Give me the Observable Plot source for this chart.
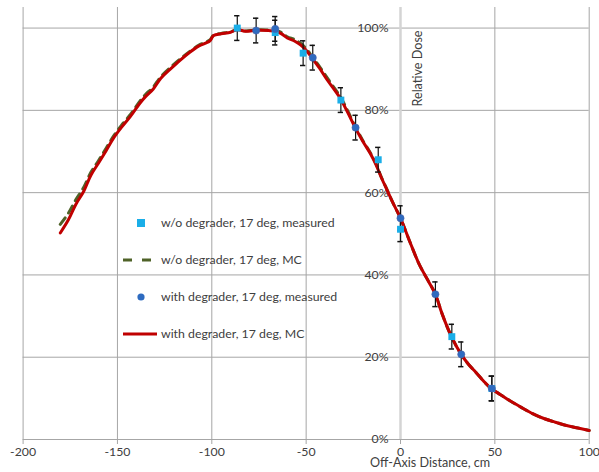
<!DOCTYPE html>
<html><head><meta charset="utf-8">
<script src="https://cdn.jsdelivr.net/npm/d3@7"></script>
<script src="https://cdn.jsdelivr.net/npm/@observablehq/plot@0.6"></script>
<style>
body{margin:0;background:#fff;font-family:Lato,sans-serif}
#wrap{position:relative;width:599px;height:472px}
#wrap svg{display:block}
.leg{position:absolute;left:0;top:0;width:599px;height:472px;pointer-events:none}
.item{position:absolute;left:0;height:20px;font:12.3px Lato,sans-serif;color:#404040;white-space:nowrap}
.item span{position:absolute;left:161px;top:2px}
</style></head><body><div id="wrap"></div>
<script>
// Monte Carlo curves (x in cm, relative dose in %)
const mcX = [-180.3,-176,-172,-168,-164,-160,-156,-152,-148,-143,-138,-135,-131,-127,-122,-117,-112,-107,-103,-101,-99,-95,-90,-86.5,-82,-78,-74,-70,-66,-63,-60,-56,-53,-50,-47,-43,-39,-35,-32,-28,-24,-20,-16,-13,-10,-7,-4,0,5,10,15,18.5,22,27,32,36,40,44,48,53,58,64,70,76,82,88,94,100];
const mcWith = [50.2,53.4,57.2,60.2,64.3,67.2,70.2,73.3,75.8,78.6,81.8,83.4,85.2,87.8,90.0,92.1,94.0,95.6,96.4,96.9,98.2,98.6,99.0,99.6,99.2,99.4,99.5,99.4,99.2,98.6,97.6,96.8,95.9,94.6,92.8,90.3,87.5,85.0,83.0,79.5,75.8,72.5,69.5,66.8,63.5,60.5,57.5,53.8,48.0,42.5,38.3,35.3,30.6,25.0,20.8,18.3,16.3,14.2,12.4,10.9,9.4,7.8,6.3,5.1,4.2,3.4,2.8,2.2];
const mcWo = [52.3,55.0,58.3,61.2,65.0,67.8,70.8,73.8,76.3,79.1,82.3,83.9,85.7,88.2,90.4,92.4,94.2,95.8,96.6,97.1,98.3,98.7,99.1,99.7,99.3,99.5,99.6,99.5,99.4,98.9,97.9,97.2,96.3,95.0,93.2,90.7,88.0,85.4,83.4,79.9,76.1,72.7,69.7,67.0,63.6,60.6,57.5,53.8,48.0,42.5,38.3,35.3,30.6,25.0,20.8,18.3,16.3,14.2,12.4,10.9,9.4,7.8,6.3,5.1,4.2,3.4,2.8,2.2];

// Measured points
const woX = [-86.5,-66.4,-51.6,-31.6,-11.8,0,27.2,48.4];
const woY = [100.0,98.9,93.9,82.5,68.0,51.1,25.0,12.4];
const wiX = [-76.5,-66.4,-46.5,-23.8,0,18.5,32.2,48.4];
const wiY = [99.4,99.8,92.8,75.8,53.8,35.3,20.7,12.4];
const errPct = 3;

const xTicks = [-200,-150,-100,-50,0,50,100];
const yTicks = [0,20,40,60,80,100];
const names = ["w/o degrader, 17 deg, measured","w/o degrader, 17 deg, MC","with degrader, 17 deg, measured","with degrader, 17 deg, MC"];

const C_SQ = "#1aaee8", C_CI = "#2e6bc0", C_GR = "#4f6228", C_RD = "#c00000", GRID = "#a6a6a6", TXT = "#404040";

const woMC = mcX.map((x,i)=>({x, y: mcWo[i]}));
const wiMC = mcX.map((x,i)=>({x, y: mcWith[i]}));
const woPts = woX.map((x,i)=>({x, y: woY[i]}));
const wiPts = wiX.map((x,i)=>({x, y: wiY[i]}));
const allPts = woPts.concat(wiPts);

const chart = Plot.plot({
  width: 599, height: 472,
  marginLeft: 22.6, marginRight: 10.3, marginTop: 7, marginBottom: 33,
  x: {domain: [-200, 100], axis: null},
  y: {domain: [0, 105], axis: null},
  style: {fontFamily: "Lato, sans-serif", fontSize: "12px", color: TXT, background: "#fff"},
  marks: [
    Plot.gridX(xTicks, {stroke: GRID, strokeOpacity: 1}),
    Plot.gridY(yTicks.slice(1), {stroke: GRID, strokeOpacity: 1}),
    Plot.ruleX([0], {stroke: "#d4d4d4", strokeWidth: 2.5}),
    Plot.ruleY([0], {stroke: GRID}),
    Plot.axisX(xTicks, {tickSize: 5, tickPadding: 3, stroke: GRID, fill: TXT, tickFormat: d => String(d), fontSize: 12.3, label: null}),
    Plot.text(yTicks, {x: 0, y: d => d, text: d => d + "%", textAnchor: "end", dx: -12, fill: TXT, fontSize: 12.3}),
    Plot.text(["Off-Axis Distance, cm"], {frameAnchor: "bottom", dx: 124, dy: 27, fill: TXT, fontSize: 12.6}),
    Plot.text(["Relative Dose"], {frameAnchor: "top", rotate: -90, dx: 106.5, dy: 61, fill: TXT, fontSize: 12.6}),
    Plot.line(woMC, {x: "x", y: "y", stroke: C_GR, strokeWidth: 3, strokeDasharray: "8,6", curve: "catmull-rom"}),
    Plot.line(wiMC, {x: "x", y: "y", stroke: C_RD, strokeWidth: 3, curve: "catmull-rom"}),
    Plot.ruleX(allPts, {x: "x", y1: d => d.y - errPct, y2: d => d.y + errPct, stroke: "#111", strokeWidth: 1.2}),
    Plot.ruleY(allPts, {y: d => d.y + errPct, x1: d => d.x - 1.4, x2: d => d.x + 1.4, stroke: "#111", strokeWidth: 1.5}),
    Plot.ruleY(allPts, {y: d => d.y - errPct, x1: d => d.x - 1.4, x2: d => d.x + 1.4, stroke: "#111", strokeWidth: 1.5}),
    Plot.dot(woPts, {x: "x", y: "y", symbol: "square", r: 3.9, fill: C_SQ, stroke: "none"}),
    Plot.dot(wiPts, {x: "x", y: "y", symbol: "circle", r: 3.6, fill: C_CI, stroke: "#4a62a8", strokeWidth: 0.6})
  ]
});
const wrap = document.getElementById("wrap");
wrap.appendChild(chart);

// legend overlay
const leg = document.createElement("div");
leg.className = "leg";
const ys = [223, 260, 297, 334];
const swatches = [
  `<svg width="40" height="20" style="position:absolute;left:121px;top:0"><rect x="16" y="6" width="8" height="8" fill="${C_SQ}"/></svg>`,
  `<svg width="40" height="20" style="position:absolute;left:121px;top:0"><line x1="2" x2="36" y1="10" y2="10" stroke="${C_GR}" stroke-width="3" stroke-dasharray="9,10"/></svg>`,
  `<svg width="40" height="20" style="position:absolute;left:121px;top:0"><circle cx="20" cy="10" r="3.6" fill="${C_CI}"/></svg>`,
  `<svg width="40" height="20" style="position:absolute;left:121px;top:0"><line x1="2" x2="36" y1="10" y2="10" stroke="${C_RD}" stroke-width="3"/></svg>`
];
names.forEach((n, i) => {
  const d = document.createElement("div");
  d.className = "item";
  d.style.top = (ys[i] - 10) + "px";
  d.style.width = "400px";
  d.innerHTML = swatches[i] + `<span>${n}</span>`;
  leg.appendChild(d);
});
wrap.appendChild(leg);
</script>
</body></html>
